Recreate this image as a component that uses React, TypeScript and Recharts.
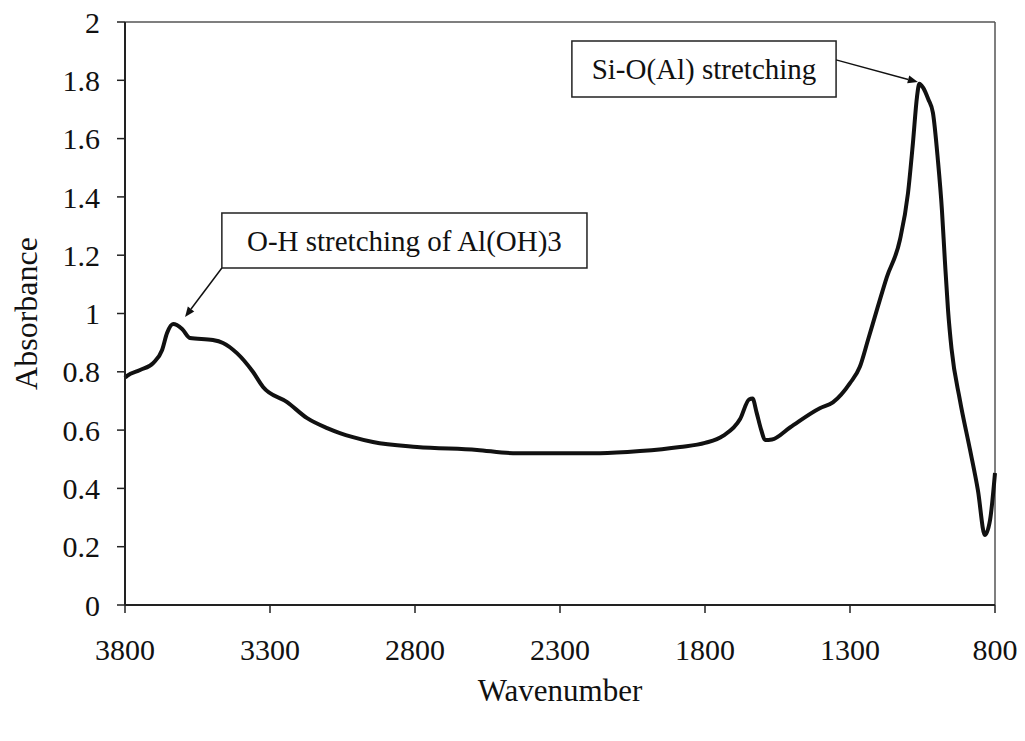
import React from 'react';
import {
  LineChart,
  Line,
  XAxis,
  YAxis,
  ReferenceLine,
  ReferenceArea
} from 'recharts';

// IR spectrum (wavenumber descending)
const wavenumbers = [
  3800, 3793, 3748, 3703, 3672, 3655, 3634, 3603, 3576, 3497, 3462, 3414, 3359, 3324,
  3241, 3172, 3103, 3059, 3014, 2945, 2793, 2586, 2462, 2335, 2162, 2024, 1886, 1800,
  1738, 1679, 1648, 1636, 1622, 1606, 1593, 1569, 1507, 1404, 1359, 1300, 1266, 1238, 1205,
  1173, 1128, 1100, 1083, 1069, 1061, 1048, 1030, 1014, 997, 983, 973, 962, 950, 921, 886,
  859, 835, 817, 800
];

const absorbance = [
  0.78, 0.786, 0.806, 0.83, 0.875, 0.933, 0.964, 0.947, 0.916, 0.909, 0.899, 0.864, 0.8, 0.748,
  0.696, 0.641, 0.607, 0.59, 0.576, 0.559, 0.542, 0.532, 0.521, 0.521, 0.521, 0.528, 0.542, 0.556,
  0.58, 0.638, 0.705, 0.708, 0.66, 0.6, 0.566, 0.568, 0.609, 0.675, 0.695, 0.761, 0.817, 0.909, 1.02,
  1.125, 1.252, 1.413, 1.585, 1.743, 1.788, 1.775, 1.735, 1.688, 1.527, 1.355, 1.184, 1.012, 0.88, 0.703, 0.532,
  0.394, 0.24, 0.292, 0.453
];

const xTicks = [3800, 3300, 2800, 2300, 1800, 1300, 800];
const yTicks = [0, 0.2, 0.4, 0.6, 0.8, 1, 1.2, 1.4, 1.6, 1.8, 2];

const annotations = [
  {
    text: 'O-H stretching of Al(OH)3',
    box: { x1: 3466, x2: 2207, y1: 1.156, y2: 1.345 },
    arrow: [{ x: 3466, y: 1.156 }, { x: 3593, y: 0.988 }]
  },
  {
    text: 'Si-O(Al) stretching',
    box: { x1: 2259, x2: 1348, y1: 1.743, y2: 1.935 },
    arrow: [{ x: 1348, y: 1.87 }, { x: 1066, y: 1.794 }]
  }
];

const data = wavenumbers.map((wn, i) => ({ wn, abs: absorbance[i] }));

const FONT = '"Liberation Serif", "Times New Roman", serif';

const Arrow = (props: any) => {
  const { x1, y1, x2, y2 } = props;
  const ang = Math.atan2(y2 - y1, x2 - x1);
  const len = 10;
  const w = 4;
  const bx = x2 - len * Math.cos(ang);
  const by = y2 - len * Math.sin(ang);
  const px = -Math.sin(ang) * w;
  const py = Math.cos(ang) * w;
  return (
    <g>
      <line x1={x1} y1={y1} x2={bx} y2={by} stroke="#111" strokeWidth={1.5} />
      <polygon
        points={`${x2},${y2} ${bx + px},${by + py} ${bx - px},${by - py}`}
        fill="#111"
      />
    </g>
  );
};

export default function App() {
  return (
    <div style={{ position: 'absolute', left: 0, top: 0, width: 1025, height: 741, background: '#fff' }}>
      <LineChart
        width={1025}
        height={741}
        data={data}
        margin={{ top: 22, right: 30, left: 0, bottom: 0 }}
      >
        <XAxis
          dataKey="wn"
          type="number"
          domain={[800, 3800]}
          reversed
          ticks={xTicks}
          interval={0}
          height={136}
          axisLine={{ stroke: '#222', strokeWidth: 2 }}
          tickLine={{ stroke: '#222', strokeWidth: 1.5 }}
          tickSize={8}
          tickMargin={26}
          tick={{ fontSize: 30, fontFamily: FONT, fill: '#111' }}
          label={{
            value: 'Wavenumber',
            position: 'insideBottom',
            offset: 40,
            fontSize: 31,
            fontFamily: FONT,
            fill: '#111'
          }}
        />
        <YAxis
          type="number"
          domain={[0, 2]}
          ticks={yTicks}
          interval={0}
          width={125}
          axisLine={{ stroke: '#222', strokeWidth: 2 }}
          tickLine={{ stroke: '#222', strokeWidth: 1.5 }}
          tickSize={8}
          tickMargin={17}
          tick={{ fontSize: 30, fontFamily: FONT, fill: '#111' }}
          label={{
            value: 'Absorbance',
            angle: -90,
            position: 'insideLeft',
            offset: 26,
            fontSize: 32,
            fontFamily: FONT,
            fill: '#111',
            style: { textAnchor: 'middle' }
          }}
        />
        <ReferenceLine y={2} stroke="#555" strokeWidth={1.5} />
        <ReferenceLine x={800} stroke="#555" strokeWidth={1.5} />
        <Line
          type="monotone"
          dataKey="abs"
          stroke="#111"
          strokeWidth={4}
          dot={false}
          isAnimationActive={false}
        />
        {annotations.map(a => (
          <ReferenceArea
            key={a.text}
            x1={a.box.x1}
            x2={a.box.x2}
            y1={a.box.y1}
            y2={a.box.y2}
            fill="#fff"
            fillOpacity={1}
            stroke="#222"
            strokeWidth={1.5}
            label={{
              value: a.text,
              position: 'center',
              fontSize: 29,
              fontFamily: FONT,
              fill: '#111'
            }}
          />
        ))}
        {annotations.map(a => (
          <ReferenceLine
            key={a.text + '-arrow'}
            segment={a.arrow}
            shape={Arrow}
          />
        ))}
      </LineChart>
    </div>
  );
}
